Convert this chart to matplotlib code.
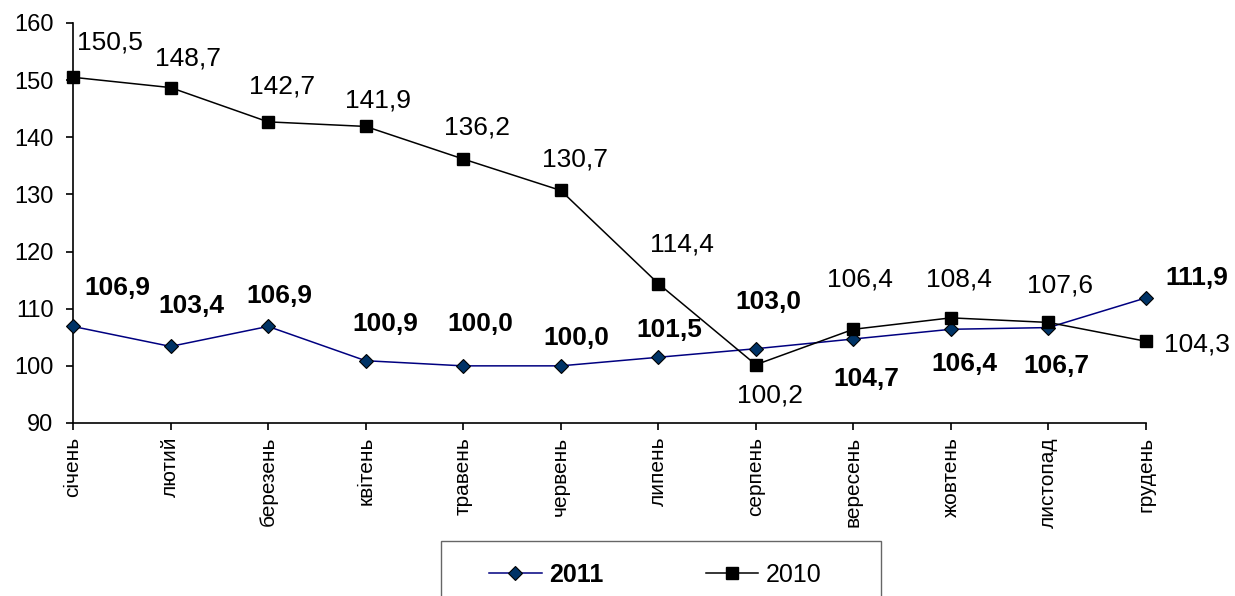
import numpy as np
import matplotlib
matplotlib.use("Agg")
from matplotlib import pyplot as plt
from matplotlib.patches import Rectangle

plt.rcParams['font.family'] = ['Liberation Sans', 'DejaVu Sans']

months = ['січень', 'лютий', 'березень', 'квітень', 'травень', 'червень',
          'липень', 'серпень', 'вересень', 'жовтень', 'листопад', 'грудень']
vals_2011 = [106.9, 103.4, 106.9, 100.9, 100.0, 100.0, 101.5, 103.0, 104.7, 106.4, 106.7, 111.9]
vals_2010 = [150.5, 148.7, 142.7, 141.9, 136.2, 130.7, 114.4, 100.2, 106.4, 108.4, 107.6, 104.3]
yticks = [90, 100, 110, 120, 130, 140, 150, 160]

# label offsets in pixels, x right / y down (labels were dragged by hand in the original)
off_2011 = [(44, -38), (21, -40), (11, -30), (20, -37), (17, -42), (16, -28),
            (11, -27), (13, -47), (13, 40), (13, 35), (8, 38), (51, -20)]
off_2010 = [(37, -35), (17, -29), (14, -35), (12, -26), (14, -32), (14, -31),
            (24, -39), (14, 31), (7, -50), (8, -38), (12, -37), (51, 3)]

fig = plt.figure(figsize=(12.35, 5.96), dpi=100)
ax = fig.add_axes([73/1235, 1-423/596, (1146-73)/1235, 400/596])

x = np.arange(len(months))
l1, = ax.plot(x, vals_2011, color='#000080', lw=1.1, marker='D', ms=6.8,
              mfc='#003366', mec='black', mew=0.8, clip_on=False, zorder=3)
l2, = ax.plot(x, vals_2010, color='black', lw=1.1, marker='s', ms=8.5,
              mfc='black', mec='black', clip_on=False, zorder=4)

for i, v in enumerate(vals_2011):
    dx, dy = off_2011[i]
    ax.annotate(f'{v:.1f}'.replace('.', ','), (i, v), xytext=(dx, -dy),
                textcoords='offset pixels', ha='center', va='center',
                fontsize=19, fontweight='bold', annotation_clip=False)
for i, v in enumerate(vals_2010):
    dx, dy = off_2010[i]
    ax.annotate(f'{v:.1f}'.replace('.', ','), (i, v), xytext=(dx, -dy),
                textcoords='offset pixels', ha='center', va='center',
                fontsize=19, annotation_clip=False)

ax.set_xlim(0, 11)
ax.set_ylim(90, 160)
ax.set_yticks(yticks)
ax.set_xticks(x)
ax.set_xticklabels(months, rotation=90, fontsize=15)
ax.tick_params(axis='y', labelsize=17, length=5, width=1.2, pad=9)
ax.tick_params(axis='x', length=5, width=1.2, pad=5)
for s in ['top', 'right']:
    ax.spines[s].set_visible(False)
for s in ['left', 'bottom']:
    ax.spines[s].set_linewidth(1.2)

# legend box, bottom edge runs off the figure
fig.patches.append(Rectangle((441/1235, -0.05), 440/1235, 0.05 + 1 - 541/596,
                             transform=fig.transFigure, fill=False,
                             edgecolor='#666666', lw=1.0))
leg = fig.legend([l1, l2], ['2011', '2010'], loc='center left',
                 bbox_to_anchor=(489/1235, 1-575/596), ncol=2, frameon=False,
                 fontsize=18, handlelength=2.1, handletextpad=0.3,
                 columnspacing=4.1, borderpad=0, borderaxespad=0)
leg.get_texts()[0].set_fontweight('bold')

fig.savefig('out.png', dpi=100)
